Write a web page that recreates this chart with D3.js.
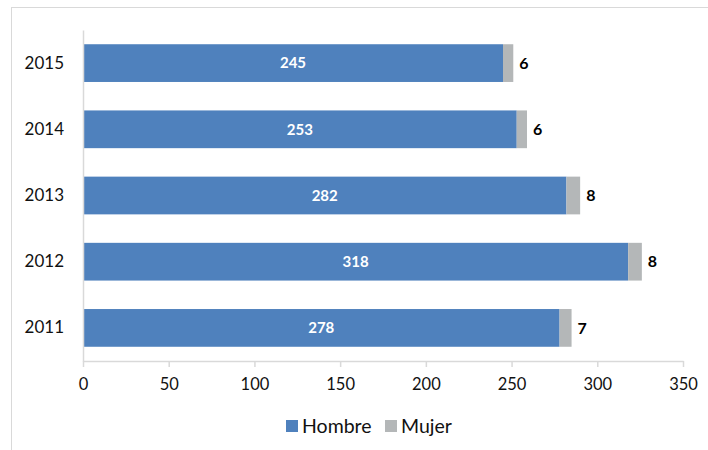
<!DOCTYPE html>
<html><head><meta charset="utf-8">
<script src="https://cdn.jsdelivr.net/npm/d3@7"></script>
<style>body{margin:0;background:#fff}svg{display:block}</style>
</head><body>
<script>
const years = ["2015","2014","2013","2012","2011"];
const hombre = [245, 253, 282, 318, 278];
const mujer = [6, 6, 8, 8, 7];
const seriesNames = ["Hombre","Mujer"];
const xTicks = [0,50,100,150,200,250,300,350];

const W = 708, H = 450;
const font = "Lato, 'Open Sans', sans-serif";
const colors = {Hombre:"#4f81bd", Mujer:"#b4b7b8"};
const svg = d3.select("body").append("svg").attr("width",W).attr("height",H);

// chart border (cropped at right/bottom)
svg.append("rect").attr("x",11.5).attr("y",7.5).attr("width",W+20).attr("height",H+20)
  .attr("fill","none").attr("stroke","#d9d9d9");

const m = {left:83, right:683, top:30, bottom:361};
const x = d3.scaleLinear().domain([0,350]).range([m.left,m.right]);
const y = d3.scaleBand().domain(years).range([m.top,m.bottom]).paddingInner(0.43).paddingOuter(0.215);

const data = years.map((yr,i)=>({year:yr, Hombre:hombre[i], Mujer:mujer[i]}));
const stack = d3.stack().keys(seriesNames)(data);

svg.append("g").selectAll("g").data(stack).join("g")
  .attr("fill",d=>colors[d.key])
  .selectAll("rect").data(d=>d).join("rect")
  .attr("x",d=>x(d[0])).attr("width",d=>x(d[1])-x(d[0]))
  .attr("y",d=>y(d.data.year)).attr("height",y.bandwidth());

// x axis
const xa = svg.append("g").attr("transform",`translate(0,${m.bottom})`)
  .call(d3.axisBottom(x).tickValues(xTicks).tickSize(6).tickSizeOuter(0).tickPadding(11));
xa.select(".domain").attr("stroke","#d9d9d9").attr("stroke-width",1.5);
xa.selectAll(".tick line").attr("stroke","#d9d9d9").attr("stroke-width",1.5);
xa.selectAll("text").attr("font-family",font).attr("font-size",16.5).attr("fill","#111");

// y axis
const ya = svg.append("g").attr("transform",`translate(${m.left},0)`)
  .call(d3.axisLeft(y).tickSize(0).tickPadding(19));
ya.select(".domain").attr("stroke","#d9d9d9").attr("stroke-width",1.5);
ya.selectAll("text").attr("font-family",font).attr("font-size",17).attr("fill","#111");

// labels
svg.append("g").selectAll("text").data(data).join("text")
  .attr("x",d=>(x(0)+x(d.Hombre))/2).attr("y",d=>y(d.year)+y.bandwidth()/2)
  .attr("dy","0.35em").attr("text-anchor","middle")
  .attr("font-family",font).attr("font-weight","bold").attr("font-size",15).attr("fill","#fff")
  .text(d=>d.Hombre);
svg.append("g").selectAll("text").data(data).join("text")
  .attr("x",d=>x(d.Hombre+d.Mujer)+6).attr("y",d=>y(d.year)+y.bandwidth()/2)
  .attr("dy","0.35em").attr("text-anchor","start")
  .attr("font-family",font).attr("font-weight","bold").attr("font-size",16).attr("fill","#000")
  .text(d=>d.Mujer);

// legend
const lg = svg.append("g").attr("transform","translate(286,420)");
const lx = [0, 99];
seriesNames.forEach((s,i)=>{
  lg.append("rect").attr("x",lx[i]).attr("y",0).attr("width",12).attr("height",12).attr("fill",colors[s]);
  lg.append("text").attr("x",lx[i]+16).attr("y",6).attr("dy","0.36em")
    .attr("font-family",font).attr("font-size",19.5).attr("fill","#111").text(s);
});
</script>
</body></html>
